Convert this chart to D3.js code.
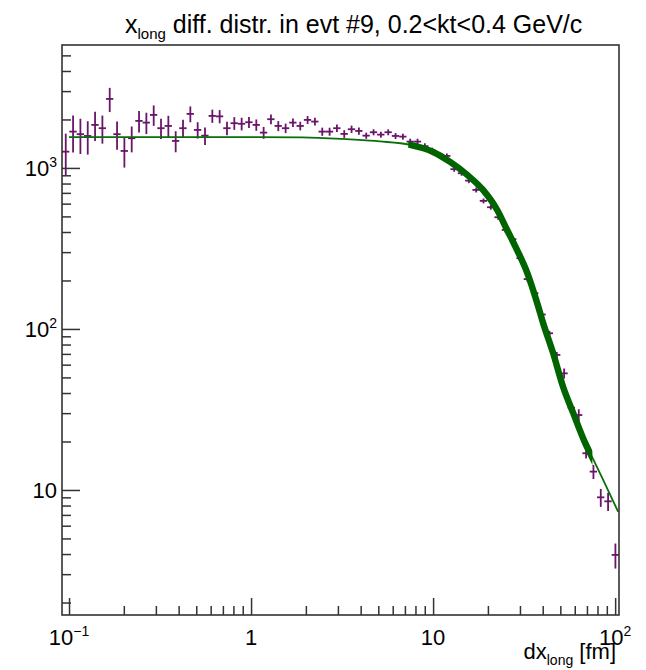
<!DOCTYPE html>
<html>
<head>
<meta charset="utf-8">
<script src="https://cdn.jsdelivr.net/npm/d3@7/dist/d3.min.js"></script>
<style>
  body { margin: 0; background: #fff; }
  svg { display: block; }
  text { font-family: "Liberation Sans", Arial, Helvetica, sans-serif; fill: #000; }
</style>
</head>
<body>
<svg id="chart" width="646" height="670"></svg>
<script>
// Histogram range (log-spaced bins) and plotted y range
const xRange = [0.0915, 105];
const yRange = [1.673, 5800];
const binCount = 76;

// Bin contents and their errors
const binValues = [
  1262, 1681, 1620, 1580, 1850, 1765, 2683, 1620, 1275, 1529,
  1959, 1912, 2134, 1765, 1823, 1471, 1765, 2165, 1722, 1587,
  2104, 2090, 1765, 1896, 1880, 1922, 1850, 1657, 2007, 1823,
  1765, 1912, 1823, 1987, 1940, 1681, 1681, 1765, 1627, 1739,
  1697, 1587, 1666, 1610, 1666, 1580, 1565, 1457, 1457, 1365,
  1281, 1210, 1187, 982, 927, 834, 730, 624, 570, 494,
  412, 361, 275, 204, 167, 123, 94, 69, 53, 32.4,
  29.2, 16.9, 13.0, 9.0, 8.5, 3.95
];
const binErrors = [
  370, 435, 400, 370, 380, 350, 460, 325, 270, 280,
  300, 290, 310, 255, 285, 220, 228, 245, 200, 198,
  198, 196, 170, 172, 170, 150, 150, 140, 140, 130,
  120, 118, 112, 112, 108, 98, 96, 96, 90, 92,
  88, 70, 71, 69, 71, 68, 67, 62, 62, 58,
  55, 43, 42, 35, 33, 30, 26, 22, 20, 18,
  15, 13, 10, 7.3, 6, 4.4, 3.4, 3.0, 3.8, 1.4,
  2.5, 1.2, 1.3, 1.15, 1.1, 0.7
];

// Fitted function, sampled
const fitX = [0.1, 1.9, 3.5, 5.1, 7.48, 10, 12.4, 15.4, 18.8, 22.5, 25.5, 28.9,
              32.9, 37.3, 40.2, 45.6, 51.8, 58.8, 68.4, 77.6, 104];
const fitY = [1555, 1550, 1503, 1461, 1390, 1257, 1090, 905, 730, 548, 412, 310,
              223, 145, 109, 71, 43.6, 30.1, 19.6, 14.7, 7.3];
const fitDenseRange = [7.3, 75];

// Axis ticks and labels
const xMajorTicks = [0.1, 1, 10, 100];
const xTickLabels = [["10", "\u22121"], ["1", ""], ["10", ""], ["10", "2"]];
const yMajorTicks = [10, 100, 1000];
const yTickLabels = [["10", ""], ["10", "2"], ["10", "3"]];

const frame = { left: 62, right: 619, top: 45, bottom: 615 };
const dataColor = "#6a146a";
const fitColor = "#0a6e0a";

const svg = d3.select("#chart");

const x = d3.scaleLog().domain(xRange).range([frame.left, frame.right]);
const y = d3.scaleLog().domain(yRange).range([frame.bottom, frame.top]);

// Minor ticks: 2..9 within each decade inside the range
function minorTicks(domain) {
  const out = [];
  const lo = Math.floor(Math.log10(domain[0])), hi = Math.ceil(Math.log10(domain[1]));
  for (let e = lo; e <= hi; e++) {
    for (let m = 2; m <= 9; m++) {
      const v = m * Math.pow(10, e);
      if (v >= domain[0] && v <= domain[1]) out.push(v);
    }
  }
  return out;
}

svg.append("defs").append("clipPath").attr("id", "plotClip")
  .append("rect")
  .attr("x", frame.left).attr("y", frame.top)
  .attr("width", frame.right - frame.left).attr("height", frame.bottom - frame.top);

svg.select("defs").append("clipPath").attr("id", "denseClip")
  .append("rect")
  .attr("x", x(fitDenseRange[0])).attr("y", frame.top)
  .attr("width", x(fitDenseRange[1]) - x(fitDenseRange[0]))
  .attr("height", frame.bottom - frame.top);

// Histogram points with error bars
const logLo = Math.log10(xRange[0]), logHi = Math.log10(xRange[1]);
const step = (logHi - logLo) / binCount;
const bins = binValues.map((v, i) => {
  const lo = Math.pow(10, logLo + i * step);
  const hi = Math.pow(10, logLo + (i + 1) * step);
  return { lo, hi, c: (lo + hi) / 2, v, e: binErrors[i] };
});

const pts = svg.append("g").attr("clip-path", "url(#plotClip)")
  .attr("stroke", dataColor).attr("stroke-width", 1.8).attr("fill", "none");

pts.selectAll("line.h").data(bins).join("line")
  .attr("class", "h")
  .attr("x1", d => x(d.lo)).attr("x2", d => x(d.hi))
  .attr("y1", d => y(d.v)).attr("y2", d => y(d.v));

pts.selectAll("line.v").data(bins).join("line")
  .attr("class", "v")
  .attr("x1", d => x(d.c)).attr("x2", d => x(d.c))
  .attr("y1", d => y(Math.max(d.v - d.e, yRange[0]))).attr("y2", d => y(d.v + d.e));

// Fit curve: thin over the full range, heavy where it was densely drawn
const fitData = fitX.map((v, i) => [v, fitY[i]]);
const fitLine = d3.line().x(d => x(d[0])).y(d => y(d[1])).curve(d3.curveMonotoneX);

svg.append("path").datum(fitData)
  .attr("clip-path", "url(#plotClip)")
  .attr("d", fitLine)
  .attr("fill", "none").attr("stroke", fitColor).attr("stroke-width", 1.8);

svg.append("path").datum(fitData)
  .attr("clip-path", "url(#denseClip)")
  .attr("d", fitLine)
  .attr("fill", "none").attr("stroke", "#006400").attr("stroke-width", 6.5);

// Axes with inward ticks
const axisColor = "#333";
function styleAxis(g) {
  g.select(".domain").remove();
  g.selectAll(".tick line").attr("stroke", axisColor).attr("stroke-width", 1.5);
  g.selectAll(".tick text").remove();
}

svg.append("g").attr("transform", `translate(0,${frame.bottom})`)
  .call(d3.axisBottom(x).tickValues(xMajorTicks).tickSize(-17).tickFormat(""))
  .call(styleAxis);
svg.append("g").attr("transform", `translate(0,${frame.bottom})`)
  .call(d3.axisBottom(x).tickValues(minorTicks(xRange)).tickSize(-9).tickFormat(""))
  .call(styleAxis);
svg.append("g").attr("transform", `translate(${frame.left},0)`)
  .call(d3.axisLeft(y).tickValues(yMajorTicks).tickSize(-18).tickFormat(""))
  .call(styleAxis);
svg.append("g").attr("transform", `translate(${frame.left},0)`)
  .call(d3.axisLeft(y).tickValues(minorTicks(yRange)).tickSize(-9).tickFormat(""))
  .call(styleAxis);

// Frame
svg.append("rect")
  .attr("x", frame.left).attr("y", frame.top)
  .attr("width", frame.right - frame.left).attr("height", frame.bottom - frame.top)
  .attr("fill", "none").attr("stroke", axisColor).attr("stroke-width", 1.6);

// Tick labels
xMajorTicks.forEach((v, i) => {
  const t = svg.append("text")
    .attr("x", x(v)).attr("y", frame.bottom + 30)
    .attr("text-anchor", "middle").attr("font-size", 22);
  t.append("tspan").text(xTickLabels[i][0]);
  if (xTickLabels[i][1]) {
    t.append("tspan").attr("dy", -9).attr("font-size", 14).text(xTickLabels[i][1]);
  }
});

yMajorTicks.forEach((v, i) => {
  const t = svg.append("text")
    .attr("x", 57).attr("y", y(v) + 8)
    .attr("text-anchor", "end").attr("font-size", 22);
  t.append("tspan").text(yTickLabels[i][0]);
  if (yTickLabels[i][1]) {
    t.append("tspan").attr("dy", -9).attr("font-size", 14).text(yTickLabels[i][1]);
  }
});

// Axis title
const xt = svg.append("text")
  .attr("x", 616).attr("y", 659)
  .attr("text-anchor", "end").attr("font-size", 22);
xt.append("tspan").text("dx");
xt.append("tspan").attr("dy", 6).attr("font-size", 14).text("long");
xt.append("tspan").attr("dy", -6).text(" [fm]");

// Title
const title = svg.append("text")
  .attr("x", 125).attr("y", 33)
  .attr("font-size", 25);
title.append("tspan").text("x");
title.append("tspan").attr("dy", 6).attr("font-size", 15).text("long");
title.append("tspan").attr("dy", -6).text(" diff. distr. in evt #9, 0.2<kt<0.4 GeV/c");
</script>
</body>
</html>
